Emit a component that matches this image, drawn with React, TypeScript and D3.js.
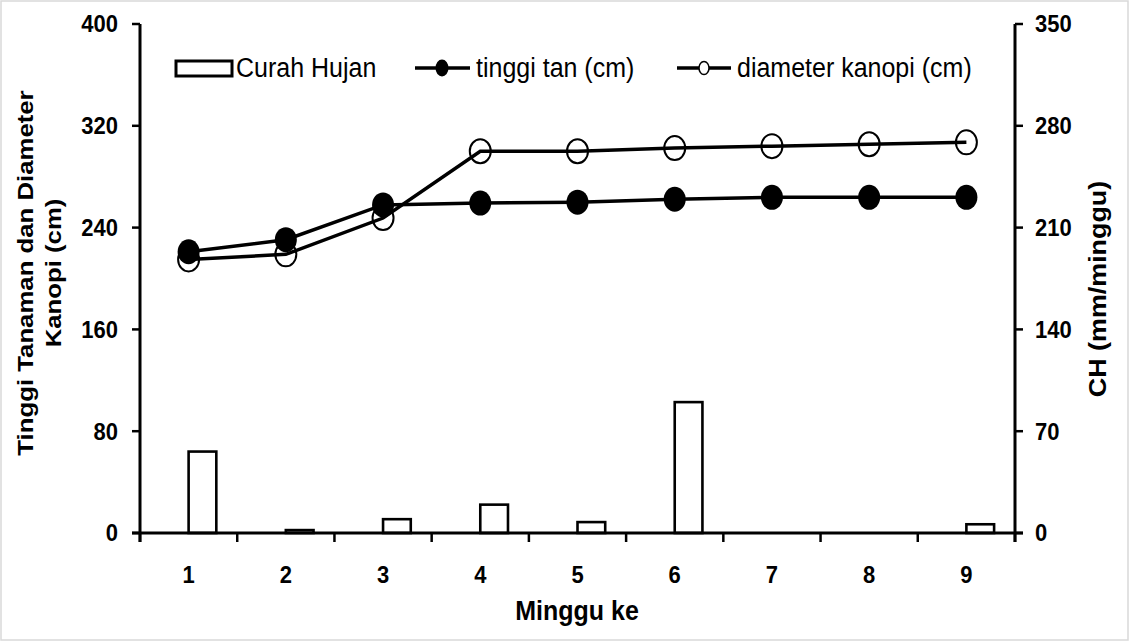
import React from "react";
import * as d3 from "d3";

const weeks = ["1", "2", "3", "4", "5", "6", "7", "8", "9"];
const curahHujan = [56, 2, 9.5, 19.5, 7.5, 90, 0, 0, 6];
const tinggiTan = [221, 230.5, 257.8, 259.3, 260, 262.3, 263.8, 263.8, 263.8];
const diameterKanopi = [215, 219, 247.5, 300, 300, 302.5, 304, 305.5, 307];
const leftTicks = [0, 80, 160, 240, 320, 400];
const rightTicks = [0, 70, 140, 210, 280, 350];

const W = 1129;
const H = 641;
const M = { left: 140, right: 1015, top: 24, bottom: 533 };
const FONT = "'Liberation Sans', Arial, Helvetica, sans-serif";
const SY = 1.12;

function HText(props: { x: number; y: number; size: number; bold?: boolean; anchor?: string; children: React.ReactNode }) {
  const { x, y, size, bold, anchor, children } = props;
  return (
    <text
      transform={`translate(${x},${y}) scale(1,${SY})`}
      fontFamily={FONT}
      fontSize={size}
      fontWeight={bold ? 700 : 400}
      textAnchor={anchor || "start"}
      dominantBaseline="central"
      fill="#000"
    >
      {children}
    </text>
  );
}

function VText(props: { x: number; y: number; size: number; children: React.ReactNode }) {
  const { x, y, size, children } = props;
  return (
    <text
      transform={`translate(${x},${y}) rotate(-90) scale(${SY},1)`}
      fontFamily={FONT}
      fontSize={size}
      fontWeight={700}
      textAnchor="middle"
      dominantBaseline="central"
      fill="#000"
    >
      {children}
    </text>
  );
}

export default function App() {
  const x = d3.scaleBand<string>().domain(weeks).range([M.left, M.right]).padding(0);
  const yL = d3.scaleLinear().domain([0, 400]).range([M.bottom, M.top]);
  const yR = d3.scaleLinear().domain([0, 350]).range([M.bottom, M.top]);
  const bw = x.bandwidth();
  const cx = (w: string) => (x(w) as number) + bw / 2;

  const line = d3
    .line<number>()
    .x((_, i) => cx(weeks[i]))
    .y((d) => yL(d));

  const boundaries = weeks.map((w) => x(w) as number).concat([M.right]);
  const barW = bw * 0.285;

  return (
    <svg width={W} height={H} style={{ position: "absolute", left: 0, top: 0, background: "#fff" }}>
      <rect x={1} y={1} width={W - 2} height={H - 2} fill="#fff" stroke="#d9d9d9" strokeWidth={1.5} />

      {/* bars */}
      {curahHujan.map((v, i) => (
        <rect
          key={"b" + i}
          x={cx(weeks[i])}
          y={yR(v)}
          width={barW}
          height={M.bottom - yR(v)}
          fill="#fff"
          stroke="#000"
          strokeWidth={2.6}
        />
      ))}

      {/* axes */}
      <line x1={M.left} x2={M.left} y1={M.top} y2={M.bottom + 9} stroke="#000" strokeWidth={3} />
      <line x1={M.right} x2={M.right} y1={M.top} y2={M.bottom + 9} stroke="#000" strokeWidth={3} />
      <line x1={M.left - 8} x2={M.right + 8} y1={M.bottom} y2={M.bottom} stroke="#000" strokeWidth={3} />

      {leftTicks.map((t) => (
        <g key={"lt" + t}>
          <line x1={M.left - 8} x2={M.left} y1={yL(t)} y2={yL(t)} stroke="#000" strokeWidth={2.5} />
          <HText x={118} y={yL(t)} size={22} bold anchor="end">
            {t}
          </HText>
        </g>
      ))}
      {rightTicks.map((t) => (
        <g key={"rt" + t}>
          <line x1={M.right} x2={M.right + 8} y1={yR(t)} y2={yR(t)} stroke="#000" strokeWidth={2.5} />
          <HText x={1035} y={yR(t)} size={22} bold anchor="start">
            {t}
          </HText>
        </g>
      ))}
      {boundaries.map((b, i) => (
        <line key={"bt" + i} x1={b} x2={b} y1={M.bottom} y2={M.bottom + 9} stroke="#000" strokeWidth={2.5} />
      ))}
      {weeks.map((w) => (
        <HText key={"xl" + w} x={cx(w)} y={575} size={22} bold anchor="middle">
          {w}
        </HText>
      ))}

      {/* lines */}
      <path d={line(tinggiTan) || ""} fill="none" stroke="#000" strokeWidth={3.5} />
      <path d={line(diameterKanopi) || ""} fill="none" stroke="#000" strokeWidth={3.5} />
      {tinggiTan.map((v, i) => (
        <ellipse key={"t" + i} cx={cx(weeks[i])} cy={yL(v)} rx={11} ry={12.5} fill="#000" />
      ))}
      {diameterKanopi.map((v, i) => (
        <ellipse key={"d" + i} cx={cx(weeks[i])} cy={yL(v)} rx={10.5} ry={12} fill="none" stroke="#000" strokeWidth={2} />
      ))}

      {/* titles */}
      <HText x={577} y={611} size={25} bold anchor="middle">
        Minggu ke
      </HText>
      <VText x={25} y={273} size={23}>
        Tinggi Tanaman dan Diameter
      </VText>
      <VText x={53} y={273} size={23}>
        Kanopi (cm)
      </VText>
      <VText x={1098} y={289} size={24}>
        CH (mm/minggu)
      </VText>

      {/* legend */}
      <rect x={176} y={61} width={56} height={15} fill="#fff" stroke="#000" strokeWidth={3} />
      <HText x={236} y={68} size={25}>
        Curah Hujan
      </HText>
      <line x1={415} x2={470} y1={68} y2={68} stroke="#000" strokeWidth={3.5} />
      <ellipse cx={442} cy={68} rx={6.5} ry={8.5} fill="#000" />
      <HText x={476} y={68} size={25}>
        tinggi tan (cm)
      </HText>
      <line x1={677} x2={731} y1={68} y2={68} stroke="#000" strokeWidth={3.5} />
      <ellipse cx={704} cy={68} rx={5} ry={6.5} fill="#fff" stroke="#000" strokeWidth={1.5} />
      <HText x={737} y={68} size={25}>
        diameter kanopi (cm)
      </HText>
    </svg>
  );
}
